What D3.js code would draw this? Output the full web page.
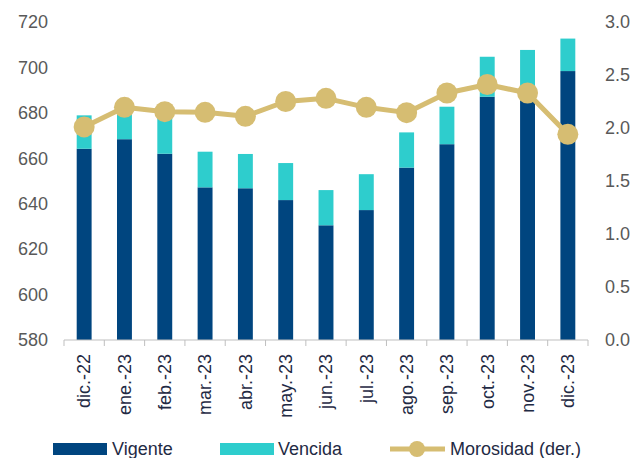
<!DOCTYPE html>
<html><head><meta charset="utf-8">
<script src="https://cdn.jsdelivr.net/npm/d3@7"></script>
<style>body{margin:0;background:#fff}svg{display:block}text{font-family:"Liberation Sans",Arial,sans-serif}</style>
</head><body>
<svg id="c" width="633" height="458"></svg>
<script>
const categories = ["dic.-22","ene.-23","feb.-23","mar.-23","abr.-23","may.-23","jun.-23","jul.-23","ago.-23","sep.-23","oct.-23","nov.-23","dic.-23"];
const vigente = [664.2,668.4,662.0,647.2,646.8,641.6,630.5,637.2,655.9,666.2,687.1,689.0,698.4];
const totalCartera = [678.9,683.0,680.0,662.9,661.9,657.9,646.0,653.0,671.4,682.7,704.7,707.7,712.7];
const vencida = totalCartera.map((t,i)=>+(t-vigente[i]).toFixed(1));
const morosidad = [2.01,2.195,2.154,2.148,2.11,2.25,2.28,2.195,2.145,2.33,2.41,2.33,1.94];
const leftTicks = [580,600,620,640,660,680,700,720];
const rightTicks = [0.0,0.5,1.0,1.5,2.0,2.5,3.0];

const svg = d3.select("#c");
const L=64,R=588,T=22,B=340;
const x = d3.scaleBand().domain(categories).range([L,R]).paddingInner(0.63).paddingOuter(0.315);
const xc = d3.scaleBand().domain(categories).range([L,R]);
const y = d3.scaleLinear().domain([580,720]).range([B,T]);
const y2 = d3.scaleLinear().domain([0,3]).range([B,T]);

const cVig="#00457F", cVen="#2ECDCD", cMor="#D6BD72";

// bars
svg.append("g").selectAll("rect").data(categories).join("rect")
  .attr("x",d=>x(d)).attr("width",x.bandwidth())
  .attr("y",(d,i)=>y(vigente[i])).attr("height",(d,i)=>y(580)-y(vigente[i])).attr("fill",cVig);
svg.append("g").selectAll("rect").data(categories).join("rect")
  .attr("x",d=>x(d)).attr("width",x.bandwidth())
  .attr("y",(d,i)=>y(vigente[i]+vencida[i])).attr("height",(d,i)=>y(vigente[i])-y(vigente[i]+vencida[i])).attr("fill",cVen);

// x axis
const ax = svg.append("g").attr("transform",`translate(0,${B})`);
ax.append("line").attr("x1",L).attr("x2",R).attr("stroke","#BFBFBF").attr("stroke-width",1);
const bounds = categories.map(d=>xc(d)).concat([R]);
ax.selectAll("line.t").data(bounds).join("line").attr("class","t")
  .attr("x1",d=>d).attr("x2",d=>d).attr("y1",0).attr("y2",6).attr("stroke","#BFBFBF");
ax.selectAll("text").data(categories).join("text")
  .attr("transform",d=>`translate(${xc(d)+xc.bandwidth()/2},14) rotate(-90)`)
  .attr("text-anchor","end").attr("dy","0.35em")
  .attr("font-size",18).attr("fill","#1F2A44").text(d=>d);

// left axis labels
svg.append("g").selectAll("text").data(leftTicks).join("text")
  .attr("x",48).attr("y",d=>y(d)).attr("dy","0.35em").attr("text-anchor","end")
  .attr("font-size",18).attr("fill","#595959").text(d=>d);
// right axis labels
svg.append("g").selectAll("text").data(rightTicks).join("text")
  .attr("x",605).attr("y",d=>y2(d)).attr("dy","0.35em").attr("text-anchor","start")
  .attr("font-size",18).attr("fill","#595959").text(d=>d.toFixed(1));

// line
const line = d3.line().x((d,i)=>xc(categories[i])+xc.bandwidth()/2).y(d=>y2(d));
svg.append("path").datum(morosidad).attr("d",line).attr("fill","none")
  .attr("stroke",cMor).attr("stroke-width",5).attr("stroke-linejoin","round");
svg.append("g").selectAll("circle").data(morosidad).join("circle")
  .attr("cx",(d,i)=>xc(categories[i])+xc.bandwidth()/2).attr("cy",d=>y2(d))
  .attr("r",10.5).attr("fill",cMor);

// legend
const lg = svg.append("g");
const ly = 449;
lg.append("rect").attr("x",53).attr("y",ly-6).attr("width",54).attr("height",12).attr("fill",cVig);
lg.append("text").attr("x",112).attr("y",ly).attr("dy","0.35em").attr("font-size",18).attr("fill","#1F2A44").text("Vigente");
lg.append("rect").attr("x",220).attr("y",ly-6).attr("width",54).attr("height",12).attr("fill",cVen);
lg.append("text").attr("x",278).attr("y",ly).attr("dy","0.35em").attr("font-size",18).attr("fill","#1F2A44").text("Vencida");
lg.append("line").attr("x1",390).attr("x2",445).attr("y1",ly).attr("y2",ly).attr("stroke",cMor).attr("stroke-width",5);
lg.append("circle").attr("cx",417).attr("cy",ly).attr("r",8).attr("fill",cMor);
lg.append("text").attr("x",450).attr("y",ly).attr("dy","0.35em").attr("font-size",18).attr("fill","#1F2A44").text("Morosidad (der.)");
</script>
</body></html>
